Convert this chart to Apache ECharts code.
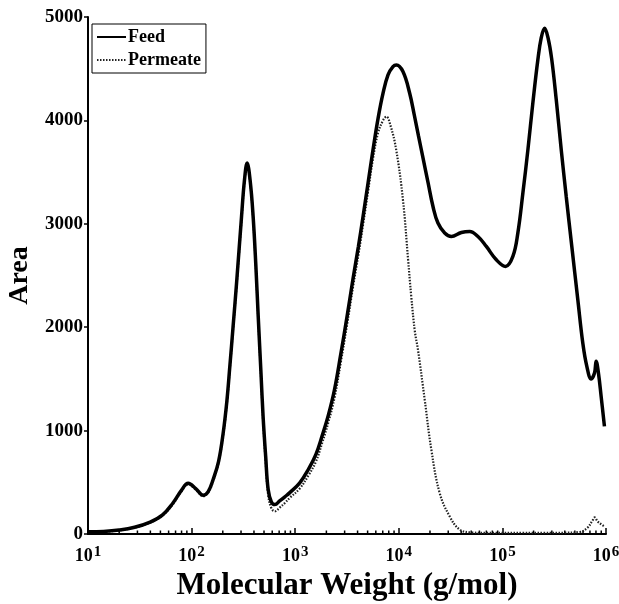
<!DOCTYPE html>
<html>
<head>
<meta charset="utf-8">
<script src="https://cdn.jsdelivr.net/npm/echarts@6/dist/echarts.min.js"></script>
<style>html,body{margin:0;padding:0;background:#fff;}#c{width:619px;height:604px;}</style>
</head>
<body>
<div id="c"></div>
<script>
// x values are log10 of molecular weight (g/mol)
var feedLogMW = [1.00,1.15,1.30,1.45,1.60,1.72,1.82,1.90,1.967,2.04,2.112,2.16,2.208,2.26,2.305,2.34,2.369,2.40,2.434,2.482,2.51,2.536,2.565,2.594,2.62,2.643,2.67,2.69,2.715,2.739,2.77,2.804,2.85,2.90,2.948,3.044,3.13,3.20,3.26,3.32,3.38,3.44,3.50,3.56,3.61,3.655,3.703,3.751,3.80,3.848,3.896,3.944,3.977,4.04,4.105,4.15,4.19,4.233,4.282,4.33,4.378,4.443,4.507,4.604,4.684,4.764,4.845,4.941,5.031,5.101,5.149,5.198,5.246,5.294,5.342,5.375,5.407,5.44,5.475,5.52,5.568,5.616,5.67,5.728,5.776,5.815,5.857,5.889,5.905,5.927,5.953,5.985];
var feedArea = [22,25,38,65,115,185,300,420,490,440,375,410,527,700,978,1280,1621,2000,2427,3070,3420,3587,3420,3070,2600,2104,1550,1138,750,430,310,285,320,360,400,495,630,770,950,1150,1400,1740,2100,2480,2780,3070,3393,3715,4020,4263,4440,4520,4536,4472,4263,4050,3850,3640,3400,3167,3007,2910,2877,2916,2926,2877,2781,2652,2587,2684,2910,3300,3715,4169,4584,4800,4890,4800,4600,4198,3715,3264,2780,2266,1847,1621,1500,1557,1670,1557,1331,1041];

var permLogMW = [1.00,1.15,1.30,1.45,1.60,1.72,1.82,1.90,1.967,2.04,2.112,2.16,2.208,2.26,2.305,2.34,2.369,2.40,2.434,2.482,2.51,2.536,2.565,2.594,2.62,2.643,2.67,2.69,2.715,2.739,2.77,2.804,2.85,2.90,2.948,3.044,3.13,3.20,3.26,3.32,3.38,3.44,3.50,3.56,3.61,3.655,3.703,3.751,3.80,3.848,3.88,3.92,3.975,4.04,4.09,4.12,4.155,4.185,4.25,4.314,4.394,4.49,4.587,4.70,4.85,5.00,5.20,5.40,5.60,5.75,5.82,5.87,5.89,5.92,5.96,5.99];
var permArea = [20,23,35,62,110,180,290,410,480,430,365,400,515,690,960,1260,1600,1980,2400,3040,3400,3570,3400,3050,2580,2080,1520,1100,700,380,250,220,255,300,350,440,570,700,880,1080,1320,1660,2020,2400,2700,2990,3310,3630,3880,4000,4037,3950,3715,3232,2650,2300,1960,1783,1300,816,398,172,43,15,10,10,12,10,12,20,60,130,160,120,90,70];

var xTickExponents = [1,2,3,4,5,6];
var yTicks = [0,1000,2000,3000,4000,5000];

function pairs(xs, ys){ return xs.map(function(x,i){ return [x, ys[i]]; }); }

// minor tick positions (2..9 within each decade) for the log axis
var minorTicks = [];
for (var d = 1; d < 6; d++) { for (var k = 2; k <= 9; k++) { minorTicks.push([d + Math.log10(k), 0]); } }

var serif = '"Liberation Serif","Times New Roman",serif';
var chart = echarts.init(document.getElementById('c'), null, {renderer:'canvas'});
chart.setOption({
  animation: false,
  backgroundColor: '#fff',
  color: ['#000', '#222'],
  grid: {left: 88, right: 13, top: 17, bottom: 70, containLabel: false, outerBoundsMode: 'none'},
  legend: {
    data: ['Feed','Permeate'],
    orient: 'vertical', left: 92, top: 24,
    padding: [4,5,4,4], itemGap: 5, itemWidth: 29, itemHeight: 14,
    borderColor: '#000', borderWidth: 1, backgroundColor: '#fff', borderRadius: 0,
    itemStyle: {opacity: 0},
    textStyle: {fontFamily: serif, fontWeight: 'bold', fontSize: 18, color: '#000', lineHeight: 18, padding: [0,0,0,-3]}
  },
  xAxis: {
    type: 'value', min: 1, max: 6, interval: 1,
    name: 'Molecular Weight (g/mol)', nameLocation: 'middle', nameGap: 36,
    nameTextStyle: {fontFamily: serif, fontWeight: 'bold', fontSize: 31, color: '#000'},
    axisLine: {show: true, lineStyle: {color: '#000', width: 2}},
    axisTick: {show: true, inside: true, length: 6, lineStyle: {color: '#000', width: 1.5}},
    splitLine: {show: false},
    axisLabel: {
      margin: 11, color: '#000',
      formatter: function(v){ return '{b|10}{s|' + Math.round(v) + '}'; },
      rich: {
        b: {fontFamily: serif, fontWeight: 'bold', fontSize: 18, color: '#000'},
        s: {fontFamily: serif, fontWeight: 'bold', fontSize: 15, color: '#000', padding: [0,0,7,1]}
      }
    }
  },
  yAxis: {
    type: 'value', min: 0, max: 5000, interval: 1000,
    name: 'Area', nameLocation: 'middle', nameGap: 46, nameRotate: 90,
    nameTextStyle: {fontFamily: serif, fontWeight: 'bold', fontSize: 28, color: '#000'},
    axisLine: {show: true, lineStyle: {color: '#000', width: 2}},
    axisTick: {show: true, inside: false, length: 4, lineStyle: {color: '#000', width: 1.5}},
    splitLine: {show: false},
    axisLabel: {margin: 5, fontFamily: serif, fontWeight: 'bold', fontSize: 19, color: '#000',
      formatter: function(v){ return String(v); }}
  },
  series: [
    {
      name: 'Feed', type: 'line', data: pairs(feedLogMW, feedArea),
      showSymbol: false, symbol: 'none', smooth: 0.4, z: 3,
      itemStyle: {color: '#000'},
      lineStyle: {color: '#000', width: 3.5}
    },
    {
      name: 'Permeate', type: 'line', data: pairs(permLogMW, permArea),
      showSymbol: false, symbol: 'none', smooth: 0.4, z: 2,
      itemStyle: {color: '#222'},
      lineStyle: {color: '#222', width: 2.2, type: [1.5,1.5]}
    },
    {
      name: 'minorTicks', type: 'custom', data: minorTicks, silent: true, z: 1,
      renderItem: function(params, api){
        var p = api.coord([api.value(0), 0]);
        return {type: 'line', shape: {x1: p[0], y1: p[1], x2: p[0], y2: p[1] - 3.5}, style: {stroke: '#000', lineWidth: 1.5}};
      }
    }
  ]
});
</script>
</body>
</html>
